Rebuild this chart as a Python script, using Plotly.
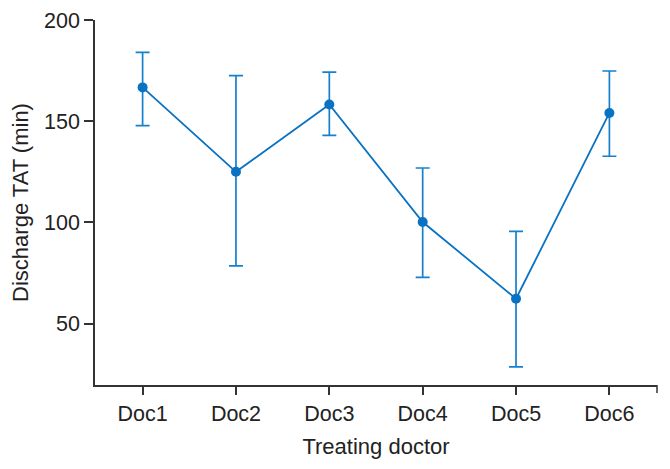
import plotly.graph_objects as go

doctors = ["Doc1", "Doc2", "Doc3", "Doc4", "Doc5", "Doc6"]
mean_tat = [166.7, 125.0, 158.3, 100.2, 62.3, 154.1]
upper = [184.0, 172.5, 174.3, 126.9, 95.6, 174.8]
lower = [147.8, 78.5, 143.0, 72.9, 28.7, 132.7]
y_ticks = [50, 100, 150, 200]

err_plus = [u - m for u, m in zip(upper, mean_tat)]
err_minus = [m - l for m, l in zip(mean_tat, lower)]

blue = "#0a72c2"
axis_col = "#333333"
font = "Liberation Sans, Arial, sans-serif"

fig = go.Figure()
fig.add_trace(go.Scatter(
    x=list(range(len(doctors))), y=mean_tat,
    mode="lines+markers",
    line=dict(color=blue, width=1.8),
    marker=dict(color=blue, size=10),
    error_y=dict(type="data", symmetric=False, array=err_plus, arrayminus=err_minus,
                 color="#1680cc", thickness=1.7, width=7),
    showlegend=False,
))

fig.update_layout(
    width=662, height=461,
    margin=dict(l=86.5, r=13.3, t=12, b=84),
    paper_bgcolor="white", plot_bgcolor="white",
    font=dict(family=font, size=21.5, color="#222222"),
    xaxis=dict(
        range=[-0.51, 5.51], automargin=False,
        tickmode="array", tickvals=list(range(len(doctors))), ticktext=doctors,
        showgrid=False, zeroline=False,
        showline=True, linecolor=axis_col, linewidth=1.5,
        ticks="outside", ticklen=8, tickwidth=1.5, tickcolor=axis_col,
        title=dict(text="Treating doctor", standoff=14, font=dict(size=22)),
        tickfont=dict(size=21.5),
    ),
    yaxis=dict(
        range=[19.7, 200], automargin=False,
        tickmode="array", tickvals=y_ticks,
        showgrid=False, zeroline=False,
        showline=True, linecolor=axis_col, linewidth=1.5,
        ticks="outside", ticklen=9, tickwidth=1.5, tickcolor=axis_col,
        title=dict(text="Discharge TAT (min)", standoff=14, font=dict(size=22)),
        tickfont=dict(size=21.5),
    ),
)

fig.add_shape(type="line", xref="paper", yref="paper",
              x0=1, x1=1, y0=0, y1=-8 / 365,
              line=dict(color=axis_col, width=1.5))

fig.write_html("out.html")
